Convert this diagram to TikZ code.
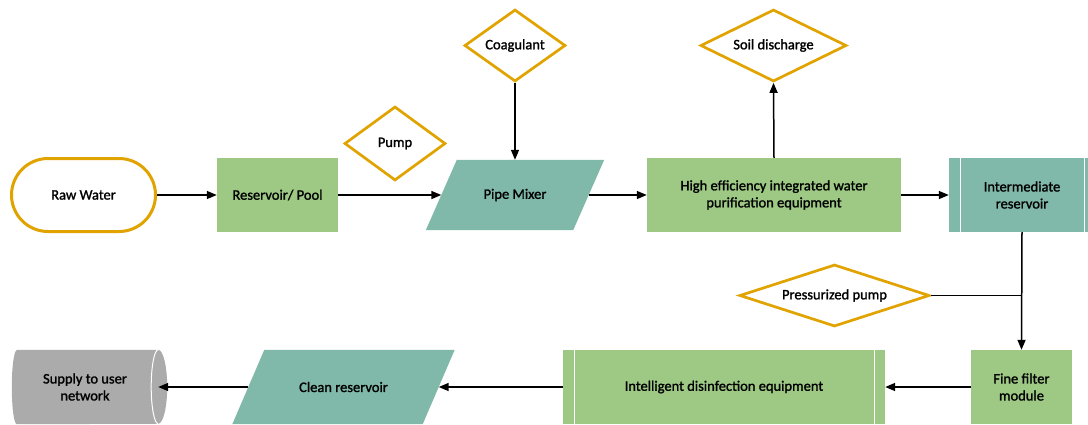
\documentclass[tikz,border=0pt]{standalone}
\usepackage{fontspec}
\setmainfont{Carlito}[UprightFeatures={FakeBold=1.4}]
\usetikzlibrary{shapes.geometric,shapes.misc,arrows.meta,backgrounds}
\definecolor{cgreen}{HTML}{9DC985}
\definecolor{cteal}{HTML}{80B8A9}
\definecolor{corange}{HTML}{E0A300}
\definecolor{cgrey}{HTML}{ABABAB}
\tikzset{
  base/.style={inner sep=0pt, align=center, font=\fontsize{14.5}{17}\selectfont, text=black},
  greenbox/.style={base, rectangle, fill=cgreen},
  tealbox/.style={base, rectangle, fill=cteal},
  predef/.style={path picture={
      \draw[white, line width=1pt] ([xshift=11pt]path picture bounding box.north west) -- ([xshift=11pt]path picture bounding box.south west);
      \draw[white, line width=1pt] ([xshift=-11pt]path picture bounding box.north east) -- ([xshift=-11pt]path picture bounding box.south east);}},
  para/.style={base, rectangle},
  decision/.style={base, diamond, draw=corange, line width=2.7pt, fill=white},
  term/.style={base, rounded rectangle, draw=corange, line width=3pt, fill=white},
  conn/.style={line width=1.5pt, -{Triangle[length=10pt,width=8pt]}},
  plainconn/.style={line width=1.5pt},
}
\begin{document}
\begin{tikzpicture}[x=1pt,y=-1pt]
\useasboundingbox (0,0) rectangle (1088,424);
% top row
\node[term, minimum width=144pt, minimum height=73pt] (raw) at (83.5,195) {Raw Water};
\node[greenbox, minimum width=121pt, minimum height=74pt] (res) at (277.5,195) {Reservoir/ Pool};
\node[decision, shape aspect=1.35, minimum width=101pt, minimum height=74pt] (pump) at (395,143.5) {Pump};
\node[para, minimum width=147pt, minimum height=70pt] (mixer) at (515,195) {Pipe Mixer};
\node[decision, shape aspect=1.39, minimum width=101pt, minimum height=72pt] (coag) at (515,45.5) {Coagulant};
\node[greenbox, minimum width=254pt, minimum height=74pt] (he) at (774,195) {High efficiency integrated water\\purification equipment};
\node[decision, shape aspect=2, minimum width=146pt, minimum height=72pt] (soil) at (773.5,45.5) {Soil discharge};
\node[tealbox, predef, minimum width=146pt, minimum height=74pt] (inter) at (1022,195) {Intermediate\\reservoir};
% right column
\node[decision, shape aspect=2.95, minimum width=190pt, minimum height=62pt] (ppump) at (834.5,295.5) {Pressurized pump};
% bottom row
\node[greenbox, minimum width=101pt, minimum height=74pt] (fine) at (1021.5,387) {Fine filter\\module};
\node[greenbox, predef, minimum width=322pt, minimum height=74pt] (intel) at (724,387) {Intelligent disinfection equipment};
\node[para, minimum width=190pt, minimum height=74pt] (clean) at (343.5,387) {Clean reservoir};
\node[base, rectangle, minimum width=146pt, minimum height=74pt] (cyl) at (85,387) {Supply to user\\network};
% shapes drawn behind the text
\begin{scope}[on background layer]
\fill[cteal] ([xshift=15.5pt]mixer.north west) -- ([xshift=15.5pt]mixer.north east) -- ([xshift=-15.5pt]mixer.south east) -- ([xshift=-15.5pt]mixer.south west) -- cycle;
\fill[cteal] ([xshift=16pt]clean.north west) -- ([xshift=16pt]clean.north east) -- ([xshift=-16pt]clean.south east) -- ([xshift=-16pt]clean.south west) -- cycle;
\fill[cgrey] ([xshift=5pt]cyl.north west) -- (cyl.north east) arc[start angle=90, end angle=-90, x radius=9pt, y radius=37pt] -- ([xshift=5pt]cyl.south west) arc[start angle=270, end angle=90, x radius=5pt, y radius=37pt] -- cycle;
\draw[white, line width=1pt] (cyl.north east) arc[start angle=90, end angle=270, x radius=7pt, y radius=37pt];
\end{scope}
% connectors
\draw[conn] (raw.east) -- (res.west);
\draw[conn] (res.east) -- (mixer.west);
\draw[conn] (coag.south) -- (mixer.north);
\draw[conn] (mixer.east) -- (he.west);
\draw[conn] (he.north) -- (soil.south);
\draw[conn] (he.east) -- (inter.west);
\draw[conn] (inter.south) -- (fine.north);
\draw[plainconn] (ppump.east) -- (ppump.east -| fine.north);
\draw[conn] (fine.west) -- (intel.east);
\draw[conn] (intel.west) -- (clean.east);
\draw[conn] (clean.west) -- (cyl.east);
\end{tikzpicture}
\end{document}
